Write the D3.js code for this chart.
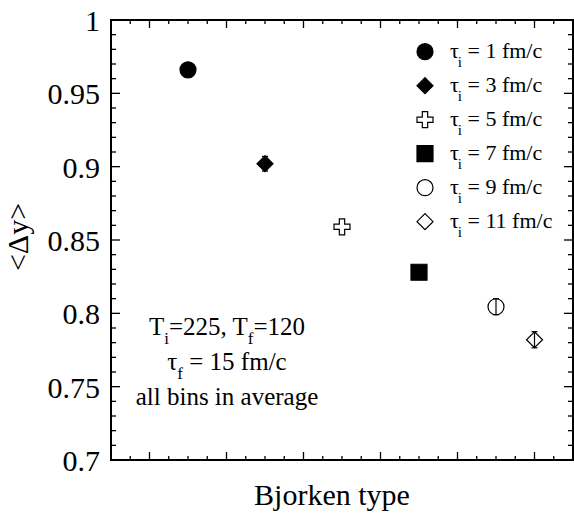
<!DOCTYPE html>
<html><head><meta charset="utf-8">
<script src="https://cdn.jsdelivr.net/npm/d3@7"></script>
<style>svg text{font-family:"Liberation Serif","Tinos","Times New Roman",serif !important;}</style>
</head>
<body style="margin:0"><svg id="c" width="574" height="519"></svg>
<script>
// ---- data ----
const seriesLabels = ["1", "3", "5", "7", "9", "11"];        // tau_i (fm/c)
const xPositions   = [1, 3, 5, 7, 9, 10];                    // Bjorken type position
const meanDy       = [0.966, 0.902, 0.859, 0.828, 0.8045, 0.782];
const errDy        = [0.003, 0.005, 0.002, 0.003, 0.0055, 0.0055];
const symbolKinds  = ["circleFilled","diamondFilled","crossOpen","squareFilled","circleOpen","diamondOpen"];
const yTickValues  = [0.7, 0.75, 0.8, 0.85, 0.9, 0.95, 1];
const yTickLabels  = ["0.7","0.75","0.8","0.85","0.9","0.95","1"];
const annotLines   = [["T","i","=225, T","f","=120"],["τ","f"," = 15 fm/c"],["all bins in average"]];

const svg = d3.select("#c");
const L=111, R=573, T=20, B=460;
const x = d3.scaleLinear().domain([-1, 11]).range([L, R]);
const y = d3.scaleLinear().domain([0.7, 1]).range([B, T]);

function txt(sel){ return sel.append("text").attr("font-family","Times New Roman").attr("fill","#000"); }

// ticks
const xMajor = d3.range(0, 11, 2), xMinor = d3.range(-0.5, 11, 0.5).filter(v => v % 2 !== 0);
const yMajor = yTickValues, yMinor = d3.range(0.71, 1.0, 0.01).filter(v => Math.abs(Math.round(v*20)-v*20) > 1e-6);
const g = svg.append("g").attr("stroke","#000");
function hTicks(vals, len){
  vals.forEach(v=>{
    g.append("line").attr("x1",x(v)).attr("x2",x(v)).attr("y1",B).attr("y2",B-len).attr("stroke-width",1.3);
    g.append("line").attr("x1",x(v)).attr("x2",x(v)).attr("y1",T).attr("y2",T+len).attr("stroke-width",1.3);
  });
}
function vTicks(vals, len){
  vals.forEach(v=>{
    g.append("line").attr("y1",y(v)).attr("y2",y(v)).attr("x1",L).attr("x2",L+len).attr("stroke-width",1.3);
    g.append("line").attr("y1",y(v)).attr("y2",y(v)).attr("x1",R).attr("x2",R-len).attr("stroke-width",1.3);
  });
}
hTicks(xMajor, 8); hTicks(xMinor, 4);
vTicks(yMajor, 9); vTicks(yMinor, 5);
svg.append("rect").attr("x",L).attr("y",T).attr("width",R-L).attr("height",B-T)
  .attr("fill","none").attr("stroke","#000").attr("stroke-width",2);

// y tick labels via axis
const yAxis = d3.axisLeft(y).tickValues(yTickValues).tickFormat((d,i)=>yTickLabels[i]).tickSize(0).tickPadding(11);
const ya = svg.append("g").attr("transform",`translate(${L},0)`).call(yAxis);
ya.attr("font-family","Times New Roman").attr("font-size",30);
ya.select(".domain").remove();
ya.selectAll("text").attr("dy","0.35em");

// axis titles
txt(svg).attr("x",332).attr("y",505).attr("text-anchor","middle").attr("font-size",30).text("Bjorken type");
txt(svg).attr("transform","translate(28,237) rotate(-90)").attr("text-anchor","middle").attr("font-size",30).text("<Δy>");

// symbols
function symPath(kind, s){
  if(kind.startsWith("circle")) return d3.symbol(d3.symbolCircle, Math.PI*s*s)();
  if(kind.startsWith("square")) return d3.symbol(d3.symbolSquare, (2*s)*(2*s))();
  if(kind.startsWith("cross"))  return d3.symbol(d3.symbolCross, 5*Math.pow(2*s/3,2))();
  if(kind.startsWith("diamond")) return `M0,${-s}L${s},0L0,${s}L${-s},0Z`;
}
function drawSym(sel, kind, s){
  const filled = kind.endsWith("Filled");
  const p = sel.append("path").attr("d", symPath(kind, s)).attr("stroke","#000").attr("stroke-width",1.2);
  if(filled) p.attr("fill","#000");
  else if(kind.startsWith("cross")) p.attr("fill","#fff");
  else p.attr("fill","none");
}

const pts = svg.append("g");
xPositions.forEach((xv,i)=>{
  const cx=x(xv), cy=y(meanDy[i]);
  const e=errDy[i];
  pts.append("line").attr("x1",cx).attr("x2",cx).attr("y1",y(meanDy[i]-e)).attr("y2",y(meanDy[i]+e)).attr("stroke","#000").attr("stroke-width",1.2);
  [meanDy[i]-e, meanDy[i]+e].forEach(v=>pts.append("line").attr("x1",cx-3).attr("x2",cx+3).attr("y1",y(v)).attr("y2",y(v)).attr("stroke","#000").attr("stroke-width",1.2));
  const gg = pts.append("g").attr("transform",`translate(${cx},${cy})`);
  drawSym(gg, symbolKinds[i], 8);
});

// legend
const leg = svg.append("g");
seriesLabels.forEach((lab,i)=>{
  const ly = 51.7 + 34*i;
  drawSym(leg.append("g").attr("transform",`translate(425,${ly})`), symbolKinds[i], 8);
  const t = txt(leg).attr("x",450).attr("y",ly+6).attr("font-size",22);
  t.append("tspan").text("τ");
  t.append("tspan").attr("font-size",15).attr("dy",9).attr("dx",-1).text("i");
  t.append("tspan").attr("dy",-9).text("\u00a0=\u00a0"+lab+" fm/c");
});

// annotation
const baseY=[335,370,405];
annotLines.forEach((parts,li)=>{
  const t = txt(svg).attr("x",227).attr("y",baseY[li]).attr("text-anchor","middle").attr("font-size",25);
  parts.forEach((p,k)=>{
    const sub = (parts.length>1 && k%2===1);
    const ts = t.append("tspan").text(p.replace(/^ /,"\u00a0"));
    if(sub) ts.attr("font-size",17).attr("dy",9);
    else if(k>0) ts.attr("dy",-9);
  });
});
</script></body></html>
